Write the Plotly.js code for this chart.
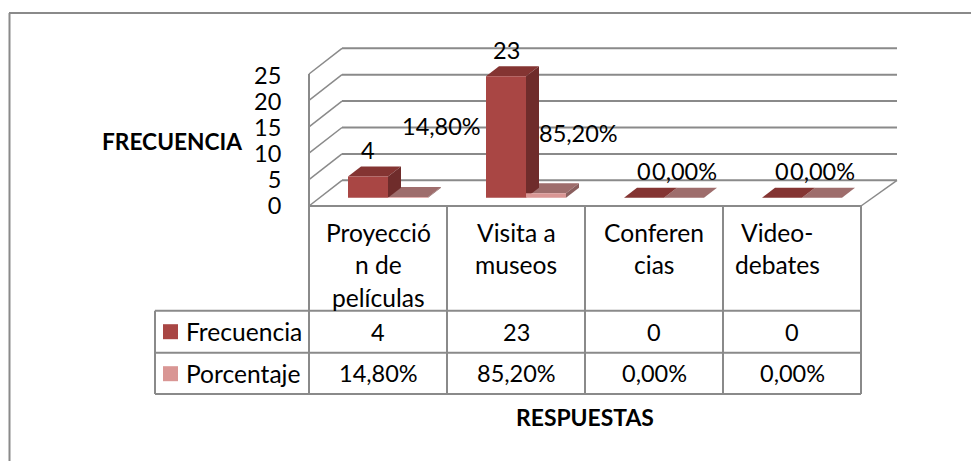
<!DOCTYPE html>
<html>
<head>
<meta charset="utf-8">
<script src="https://cdn.plot.ly/plotly-3.0.1.min.js"></script>
<style>html,body{margin:0;padding:0;background:#fff}#chart{width:971px;height:461px}</style>
</head>
<body>
<div id="chart"></div>
<script>
// ---- data ----
const categoryLines = [["Proyecció","n de","películas"],["Visita a","museos"],["Conferen","cias"],["Video-","debates"]];
const frecuencia = [4, 23, 0, 0];
const porcentaje = [0.148, 0.852, 0, 0];
const frecuenciaText = ["4","23","0","0"];
const porcentajeText = ["14,80%","85,20%","0,00%","0,00%"];
const seriesNames = ["Frecuencia","Porcentaje"];
const yTicks = [0,5,10,15,20,25];

// ---- layout constants ----
const W=971,H=461, FONT="Lato, 'Open Sans', sans-serif", FS=23.5, FSW=24.6;
const LEFT=309, RIGHT=861, TOP=48, FLOOR=206, CAT=(RIGHT-LEFT)/4;
const PL=300, PR=905, PT=40, PB=212;  // plot window, roomy enough for the depth lines
const PXU=5.28;              // pixels per value unit on the bar axis
const BASE=197.7;            // pixel row of value 0 for the bars
const PXU2=5.2, ZERO2=205.5; // tick-label axis
const px2x=p=>(p-LEFT)/CAT-0.5, dpx=p=>p/CAT, dpy=p=>p/PXU;
const pxX=p=>p/W, pxY=p=>1-p/H;
const GRID="#8a8a8a";
const C1={front:"#A94644",top:"#843432",side:"#6F2C2B"};
const C2={front:"#D99694",top:"#9E6D6C",side:"#8A5F5E"};

const BW=dpx(40), OFF1=dpx(-30), OFF2=dpx(10), DX=dpx(13), DY=dpy(10);

// ---- walls ----
const shapes=[];
const line=(x0,y0,x1,y1,w)=>({type:"line",xref:"x",yref:"y",x0,y0,x1,y1,layer:"below",line:{color:GRID,width:w||2}});
const frontY=v=>v-(FLOOR-BASE)/PXU, backY=v=>frontY(v)+dpy(25.7);
yTicks.forEach(v=>{
  shapes.push(line(px2x(342),backY(v),px2x(897),backY(v),2));
  shapes.push(line(px2x(LEFT),frontY(v),px2x(342),backY(v),1.5));
});
shapes.push(line(px2x(LEFT),frontY(0),px2x(LEFT),frontY(25),2));
shapes.push(line(px2x(RIGHT),frontY(0),px2x(897),backY(0),1.5));

// ---- 3D faces derived from the values ----
function poly(pts,color){
  return {type:"path",xref:"x",yref:"y",layer:"below",fillcolor:color,line:{width:0},
    path:"M"+pts.map(p=>p[0]+" "+p[1]).join(" L")+" Z"};
}
function faces(vals,off,c){
  vals.forEach((v,i)=>{
    const a=i+off,b=a+BW;
    shapes.push(poly([[a,v],[b,v],[b+DX,v+DY],[a+DX,v+DY]],c.top));
    if(v>0) shapes.push(poly([[b,0],[b,v],[b+DX,v+DY],[b+DX,DY]],c.side));
  });
}
faces(porcentaje,OFF2,C2);
faces(frecuencia,OFF1,C1);

// ---- outer border ----
const pline=(x0,y0,x1,y1,w)=>({type:"line",xref:"paper",yref:"paper",x0:pxX(x0),y0:pxY(y0),x1:pxX(x1),y1:pxY(y1),line:{color:GRID,width:w||2}});
shapes.push(pline(9.5,13,9.5,461,2));
shapes.push(pline(9,13,971,13,2));

// ---- data table ----
const ROW0=206,ROW1=310.7,ROW2=352.7,ROW3=394,TL=155;
[0,1,2,3,4].forEach(i=>shapes.push(pline(LEFT+i*CAT,ROW0,LEFT+i*CAT,ROW3,2)));
shapes.push(pline(LEFT,ROW0,RIGHT,ROW0,2));
[ROW1,ROW2,ROW3].forEach(r=>shapes.push(pline(TL,r,RIGHT,r,2)));
shapes.push(pline(TL,ROW1,TL,ROW3,2));
[[ROW1,C1.front],[ROW2,C2.front]].forEach(([r,c])=>{
  const m=r+21;
  shapes.push({type:"rect",xref:"paper",yref:"paper",x0:pxX(163),x1:pxX(178),y0:pxY(m-7.5),y1:pxY(m+7.5),fillcolor:c,line:{width:0}});
});

// ---- texts ----
const ann=[];
const txt=(text,x,y,fs)=>ann.push({text,x,y,xref:"x",yref:"paper",showarrow:false,
  xanchor:"center",yanchor:"middle",font:{family:FONT,size:fs,color:"#000"}});
const catShift=[0,0,0,-15];
const lineY=[232,264,297];
categoryLines.forEach((ls,i)=>ls.forEach((l,k)=>txt(l,i+dpx(catShift[i]),pxY(lineY[k]),FSW)));
frecuenciaText.forEach((t,i)=>txt(t,i,pxY(331.7),FS));
porcentajeText.forEach((t,i)=>txt(t,i,pxY(373),FS));
seriesNames.forEach((t,k)=>ann.push({text:t,x:pxX(184),y:pxY(k?373:331.7),xref:"paper",yref:"paper",showarrow:false,
  xanchor:"left",yanchor:"middle",font:{family:FONT,size:FSW,color:"#000"}}));
// data labels
const LIFT=dpy(26.7);
frecuencia.forEach((v,i)=>ann.push({text:frecuenciaText[i],x:i+dpx(-10),y:v+LIFT,xref:"x",yref:"y",showarrow:false,
  xanchor:"center",yanchor:"middle",font:{family:FONT,size:FS,color:"#000"}}));
const pctShiftX=[63,62,30,30], pctLift=[70.7,60.7,26.7,26.7];
porcentaje.forEach((v,i)=>ann.push({text:porcentajeText[i],x:i+dpx(pctShiftX[i]),y:v+dpy(pctLift[i]),xref:"x",yref:"y",showarrow:false,
  xanchor:"center",yanchor:"middle",font:{family:FONT,size:FS,color:"#000"}}));
// axis titles
ann.push({text:"<b>FRECUENCIA</b>",x:pxX(171.5),y:pxY(141),xref:"paper",yref:"paper",showarrow:false,xanchor:"center",yanchor:"middle",font:{family:FONT,size:22.7,color:"#000"}});
ann.push({text:"<b>RESPUESTAS</b>",x:pxX(585),y:pxY(417),xref:"paper",yref:"paper",showarrow:false,xanchor:"center",yanchor:"middle",font:{family:FONT,size:22.9,color:"#000"}});

const idx=categoryLines.map((c,i)=>i);
const traces=[
  {type:"bar",name:seriesNames[0],x:idx,y:frecuencia,width:BW,offset:OFF1,marker:{color:C1.front,line:{width:0}},hoverinfo:"skip"},
  {type:"bar",name:seriesNames[1],x:idx,y:porcentaje,width:BW,offset:OFF2,marker:{color:C2.front,line:{width:0}},hoverinfo:"skip"},
  // carries the tick-label axis (front plane of the chart)
  {type:"scatter",mode:"lines",x:[-0.5,-0.5],y:[0,25],yaxis:"y2",line:{color:GRID,width:0},hoverinfo:"skip",showlegend:false}
];
const dom=[1-PB/H,1-PT/H];
const layout={
  width:W,height:H,margin:{l:0,r:0,t:0,b:0},paper_bgcolor:"#fff",plot_bgcolor:"rgba(0,0,0,0)",
  showlegend:false,barmode:"overlay",
  font:{family:FONT,size:FS,color:"#000"},
  xaxis:{type:"linear",domain:[PL/W,PR/W],range:[px2x(PL),px2x(PR)],showgrid:false,zeroline:false,showticklabels:false,ticks:"",showline:false},
  yaxis:{domain:dom,range:[(BASE-PB)/PXU,(BASE-PT)/PXU],showgrid:false,zeroline:false,showticklabels:false,ticks:"",showline:false},
  yaxis2:{domain:dom,overlaying:"y",side:"left",range:[(ZERO2-PB)/PXU2,(ZERO2-PT)/PXU2],tickmode:"array",tickvals:yTicks,ticktext:yTicks.map(String),
    showgrid:false,zeroline:false,showline:false,ticks:"outside",ticklen:13,tickcolor:"rgba(0,0,0,0)",tickfont:{family:FONT,size:23.5,color:"#000"}},
  shapes,annotations:ann
};
Plotly.newPlot("chart",traces,layout,{displayModeBar:false,staticPlot:true});
</script>
</body>
</html>
